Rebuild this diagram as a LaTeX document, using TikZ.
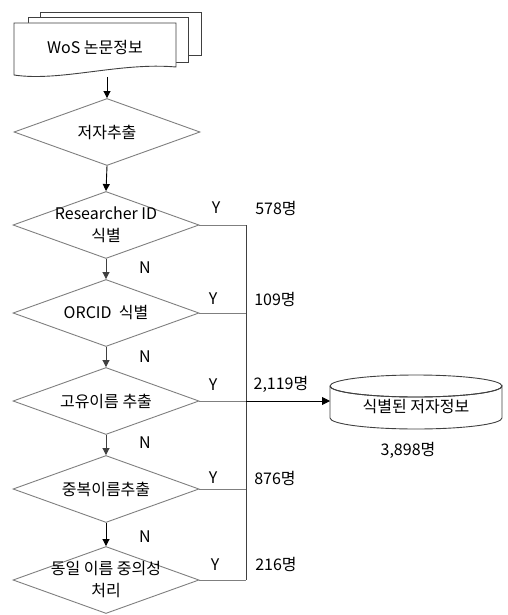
\documentclass[tikz,border=0pt]{standalone}
\usepackage{fontspec}
\setmainfont{Noto Sans CJK KR}
\usetikzlibrary{arrows.meta,shapes.geometric}
\definecolor{edgegray}{HTML}{7F7F7F}
\definecolor{darkline}{HTML}{404040}
\begin{document}
\begin{tikzpicture}[x=1pt,y=-1pt,
  every node/.style={font=\fontsize{16}{22}\selectfont, text=black},
  decision/.style={draw=edgegray, line width=0.9pt, diamond, inner sep=0pt,
    minimum width=186pt, minimum height=67pt},
  flow/.style={line width=0.9pt, draw=darkline, -{Triangle[length=7pt,width=7pt]}},
  yes/.style={line width=0.9pt, draw=edgegray},
  tag/.style={inner sep=0pt},
  page/.style={draw=darkline, line width=0.9pt, fill=white}]
\useasboundingbox (0,0) rectangle (507,615);

% stacked documents
\draw[page] (40,12) rectangle (201,55);
\draw[page] (28,17) rectangle (188,62);
\draw[page] (14,23) -- (176,23) -- (176,67)
  .. controls (120,62) and (60,82) .. (14,75) -- cycle;
\node (doc) at (95,48) {WoS 논문정보};
\coordinate (docout) at (107,77);

% decision chain
\node[decision, label={center:저자추출}] (d1) at (107,132) {};
\node[decision, label={[align=center]center:Researcher ID\\식별}] (d2) at (106,225) {};
\node[decision, label={center:ORCID \ 식별}] (d3) at (106,313) {};
\node[decision, label={center:고유이름 추출}] (d4) at (106,401) {};
\node[decision, label={center:중복이름추출}] (d5) at (106,489) {};
\node[decision, label={[align=center]center:동일 이름 중의성\\처리}] (d6) at (106,580) {};

\draw[flow, draw=black] (docout) -- (d1.north);
\draw[flow, draw=black] (d1.south) -- (d2.north);
\draw[flow] (d2.south) -- (d3.north);
\draw[flow] (d3.south) -- (d4.north);
\draw[flow] (d4.south) -- (d5.north);
\draw[flow, draw=black] (d5.south) -- (d6.north);

% N labels
\node[tag] (n2) at (145,268) {N};
\node[tag] (n3) at (145,357) {N};
\node[tag] (n4) at (145,443) {N};
\node[tag] (n5) at (145,537) {N};

% collecting bus on the right
\coordinate (bus) at (246,0);
\draw[yes] (d2.east) -- (d2.east -| bus);
\draw[yes] (d3.east) -- (d3.east -| bus);
\draw[yes] (d4.east) -- (d4.east -| bus);
\draw[yes] (d5.east) -- (d5.east -| bus);
\draw[yes] (d6.east) -- (d6.east -| bus);
\draw[line width=0.9pt, draw=darkline] (d2.east -| bus) -- (d6.east -| bus);

% Y labels and counts
\node[tag] (y2) at (216,208) {Y};
\node[tag] (y3) at (213,299) {Y};
\node[tag] (y4) at (213,385) {Y};
\node[tag] (y5) at (213,478) {Y};
\node[tag] (y6) at (215,565) {Y};
\node[tag] (c2) at (276,208) {578명};
\node[tag] (c3) at (275,299) {109명};
\node[tag] (c4) at (281,384) {2,119명};
\node[tag] (c5) at (275,478) {876명};
\node[tag] (c6) at (276,564) {216명};

% identified author store
\draw[line width=0.9pt, draw=darkline, fill=white]
  (330,386) -- (330,418) arc[start angle=180, end angle=360, x radius=86, y radius=-11]
  -- (502,386) arc[start angle=0, end angle=-180, x radius=86, y radius=-11];
\draw[line width=0.9pt, draw=darkline] (416,386) ellipse[x radius=86, y radius=11];
\node (db) at (416,407) {식별된 저자정보};
\coordinate (dbin) at (330,401);
\node[tag] (total) at (408,450) {3,898명};

\draw[line width=0.9pt, draw=black, -{Triangle[length=8pt,width=8pt]}] (d4.east -| bus) -- (dbin);
\end{tikzpicture}
\end{document}
